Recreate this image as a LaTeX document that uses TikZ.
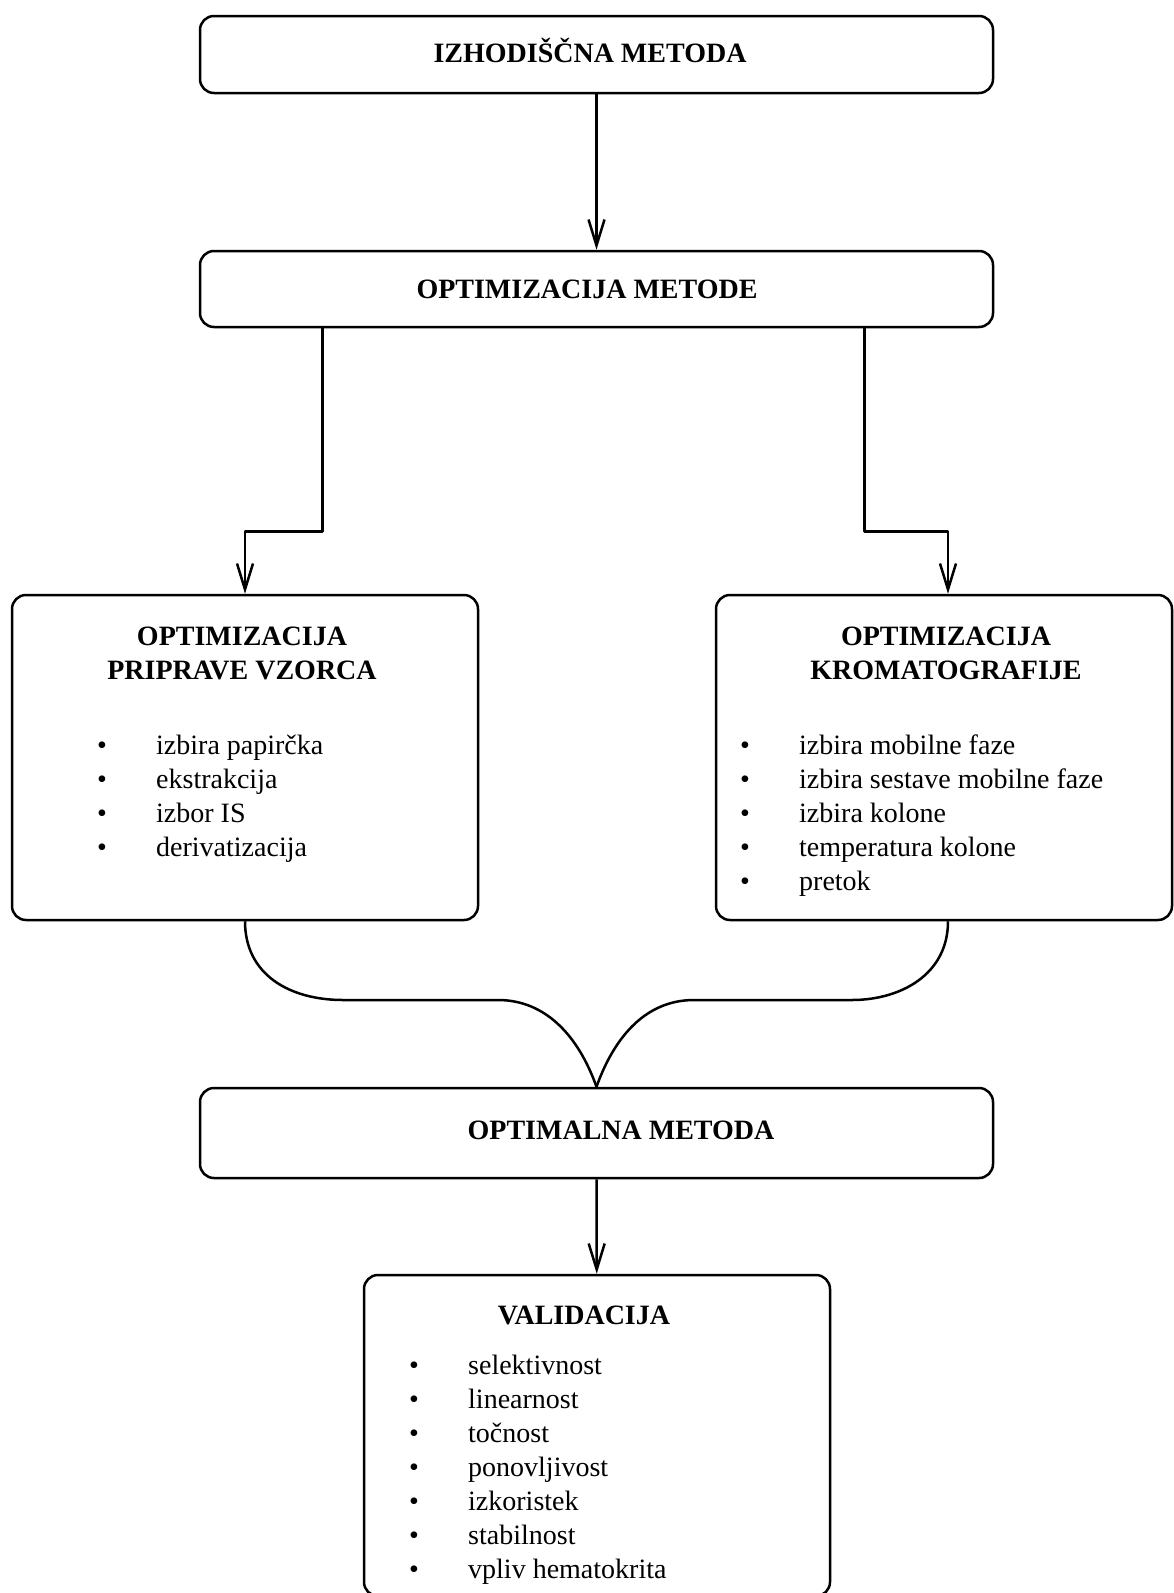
\documentclass[tikz,border=0pt]{standalone}
\usepackage{fontspec}
\setmainfont{Liberation Serif}
\usetikzlibrary{arrows.meta}
\tikzset{
  box/.style={draw, rounded corners=14pt, line width=2.5pt, inner sep=0pt},
  conn/.style={line width=2.5pt, line join=round},
  arr/.style={conn, -{Straight Barb[length=26pt,width=16pt]}},
  head/.style={font=\bfseries\fontsize{28}{34}\selectfont, anchor=base, inner sep=0pt},
  item/.style={font=\fontsize{28}{34}\selectfont, anchor=base west, inner sep=0pt},
}
\newcommand{\itm}[1]{\makebox[59pt][l]{\textbullet}#1}
\begin{document}
\begin{tikzpicture}[x=1pt, y=-1pt]
\useasboundingbox (0,0) rectangle (1173,1593);
% boxes
\node[box, minimum width=793pt, minimum height=77pt] (izhod) at (596.5,54.5) {};
\node[box, minimum width=793pt, minimum height=76pt] (optmet) at (596.5,289) {};
\node[box, minimum width=466pt, minimum height=325pt] (priprava) at (245,757.5) {};
\node[box, minimum width=456pt, minimum height=325pt] (kromat) at (944,757.5) {};
\node[box, minimum width=793pt, minimum height=90pt] (optimal) at (596.5,1133) {};
\node[box, minimum width=466pt, minimum height=321pt] (valid) at (597,1435.5) {};
% headings
\node[head] (izhodT) at (590,62) {IZHODIŠČNA METODA};
\node[head] (optmetT) at (587,298) {OPTIMIZACIJA METODE};
\node[head] (pripT1) at (242,645) {OPTIMIZACIJA};
\node[head] (pripT2) at (242,679) {PRIPRAVE VZORCA};
\node[head] (kromT1) at (946,645) {OPTIMIZACIJA};
\node[head] (kromT2) at (946,679) {KROMATOGRAFIJE};
\node[head] (optimalT) at (621,1139) {OPTIMALNA METODA};
\node[head] (validT) at (584,1324) {VALIDACIJA};
% lists
\foreach \t [count=\i] in {izbira papirčka, ekstrakcija, izbor IS, derivatizacija}
  \node[item] (prip\i) at (97,{754+34*(\i-1)}) {\itm{\t}};
\foreach \t [count=\i] in {izbira mobilne faze, izbira sestave mobilne faze, izbira kolone, temperatura kolone, pretok}
  \node[item] (krom\i) at (740,{754+34*(\i-1)}) {\itm{\t}};
\foreach \t [count=\i] in {selektivnost, linearnost, točnost, ponovljivost, izkoristek, stabilnost, vpliv hematokrita}
  \node[item] (val\i) at (409,{1374+34*(\i-1)}) {\itm{\t}};
% connectors
\draw[arr] (izhod) -- (optmet);
\draw[arr] ([xshift=-274pt]optmet.south) -- ++(0,203) -| (priprava.north);
\draw[arr] ([xshift=268pt]optmet.south) -- ++(0,203) -| ([xshift=4pt]kromat.north);
\draw[conn] (priprava.south) .. controls (245,975) and (290,1000) .. (343,1000)
  -- (498,1000) .. controls (545,1000) and (578,1035) .. (optimal.north);
\draw[conn] ([xshift=4pt]kromat.south) .. controls (948,975) and (900,1000) .. (852,1000)
  -- (694,1000) .. controls (647,1000) and (615,1035) .. (optimal.north);
\draw[arr] (optimal) -- (valid);
\end{tikzpicture}
\end{document}
